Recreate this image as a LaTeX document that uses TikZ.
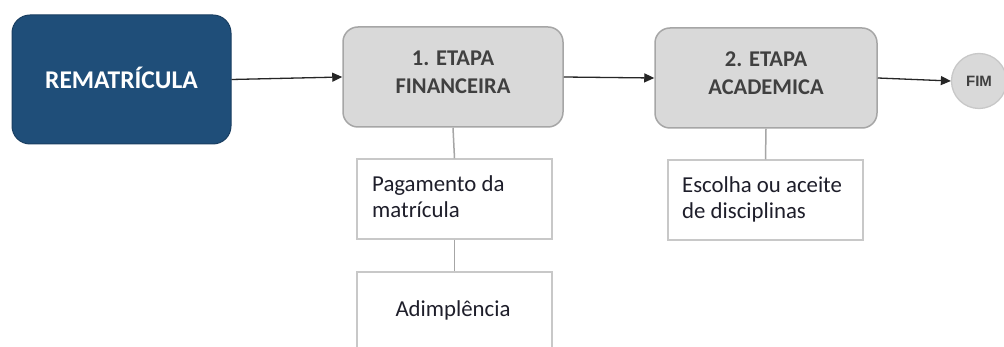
\documentclass[tikz,border=0pt]{standalone}
\usepackage{fontspec}
\setmainfont{Carlito}
\newfontfamily\fimfont{Liberation Sans}
\usetikzlibrary{arrows.meta}
\definecolor{rmblue}{HTML}{1F4E79}
\definecolor{stagefill}{HTML}{D9D9D9}
\definecolor{stageline}{HTML}{A6A6A6}
\definecolor{noteline}{HTML}{C8C8C8}
\definecolor{stagetxt}{HTML}{404040}
\definecolor{notetxt}{HTML}{1E1E2A}
\tikzset{
  startbox/.style={draw=rmblue!80!black, line width=1pt, fill=rmblue, rounded corners=18pt,
    minimum width=219pt, minimum height=129pt, inner sep=0pt},
  stagebox/.style={draw=stageline, line width=1.5pt, fill=stagefill, rounded corners=15pt,
    minimum height=100pt, inner sep=0pt},
  stagetext/.style={align=center, text=stagetxt, font=\fontsize{22.5pt}{28pt}\selectfont\bfseries, inner sep=0pt},
  notebox/.style={draw=noteline, line width=1.3pt, fill=white,
    minimum width=195pt, minimum height=80pt, inner sep=0pt},
  notetext/.style={align=left, text=notetxt, font=\fontsize{22.8pt}{26.5pt}\selectfont, inner sep=0pt, anchor=west},
  endcircle/.style={circle, draw=noteline, line width=1.3pt, fill=stagefill, minimum size=55pt, inner sep=0pt,
    text=stagetxt, font=\fimfont\fontsize{15pt}{17pt}\selectfont\bfseries},
  flow/.style={draw=black!85, line width=1.3pt, -{Triangle[length=10pt,width=9pt]}},
  link/.style={draw=stageline, line width=1.5pt},
}
\begin{document}
\begin{tikzpicture}[x=1pt,y=-1pt]
\clip (0,0) rectangle (1004,347);
\fill[white] (0,0) rectangle (1004,347);
% nodes
\node[startbox] (rem) at (121.5,79.5) {};
\node[text=white, font=\fontsize{25.5pt}{28pt}\selectfont\bfseries, inner sep=0pt] (remtext) at ([yshift=2pt]rem.center) {REMATRÍCULA};
\node[stagebox, minimum width=220pt] (fin) at (453,77) {};
\node[stagetext] (fintext) at ([yshift=5pt]fin.center) {1. ETAPA\\FINANCEIRA};
\node[stagebox, minimum width=222pt] (aca) at (766,78) {};
\node[stagetext] (acatext) at ([yshift=4.5pt]aca.center) {2. ETAPA\\ACADEMICA};
\node[endcircle] (fim) at (979,81) {FIM};
\node[notebox] (pag) at (454.5,199) {};
\node[notetext] (pagtext) at (372,196.5) {Pagamento da\\matrícula};
\node[notebox] (adi) at (454.5,312) {};
\node[text=notetxt, font=\fontsize{22.8pt}{26.5pt}\selectfont, inner sep=0pt] (aditext) at (453,310) {Adimplência};
\node[notebox] (esc) at (765.5,200) {};
\node[notetext] (esctext) at (682,199.5) {Escolha ou aceite\\de disciplinas};
% connectors
\draw[flow] (rem.east) -- (fin.west);
\draw[flow] (fin.east) -- (aca.west);
\draw[flow] (aca.east) -- (fim.west);
\draw[link] (fin.south) -- (pag.north);
\draw[link] (pag.south) -- (adi.north);
\draw[link] (aca.south) -- (esc.north);
\end{tikzpicture}
\end{document}
